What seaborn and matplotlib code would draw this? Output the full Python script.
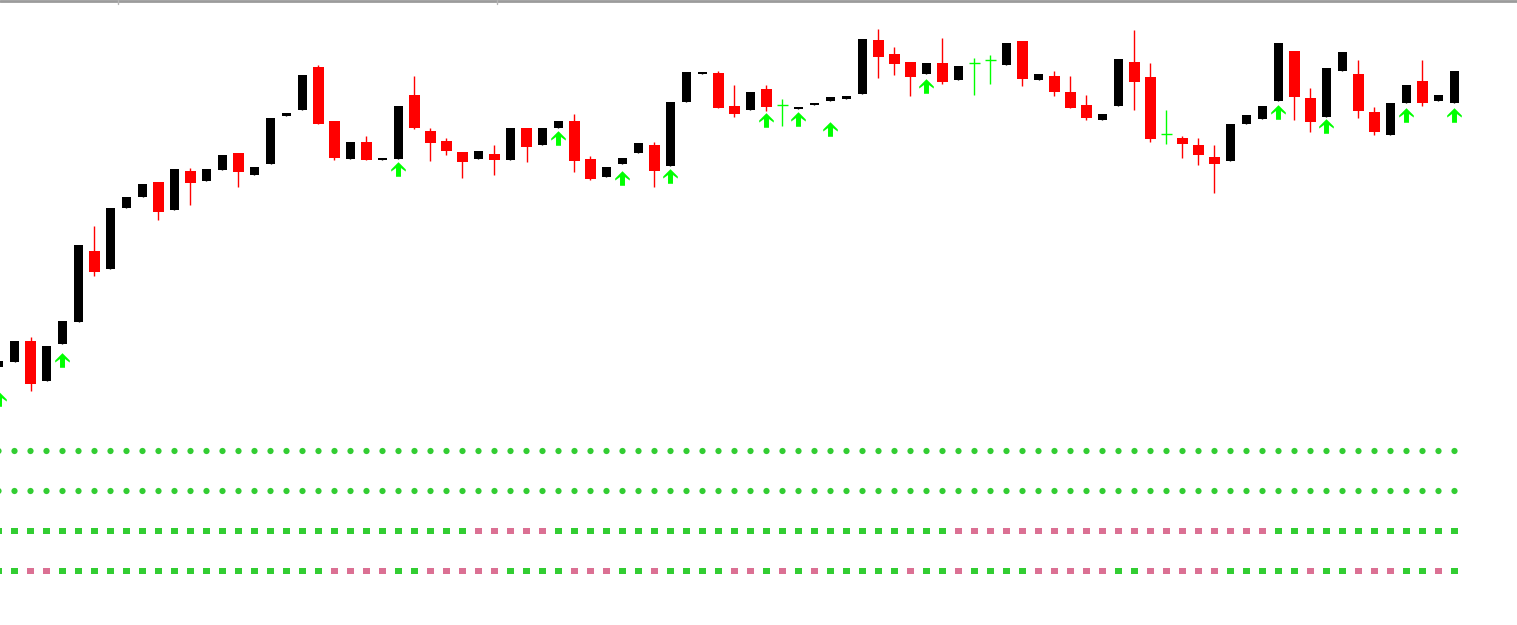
import numpy as np
import pandas as pd
import matplotlib.pyplot as plt
import seaborn as sns
from matplotlib.path import Path

sns.set_style("white")

# bar index -1 is the half-visible candle at the left edge
bars = list(range(-1, 91))

opens = [258, 263, 284, 244, 281, 303, 374, 356, 417, 428, 443, 415, 454, 444, 455, 472,
         450, 461, 509, 515, 558, 504, 466, 483, 465, 466, 530, 494, 484, 473, 466, 471,
         465, 497, 480, 497, 504, 466, 448, 461, 472, 480, 459, 523, 551, 552, 519, 515,
         536, 520, 516, 520, 524, 526, 531, 585, 571, 563, 551, 562, 545, 562, 565, 560,
         584, 545, 549, 533, 520, 505, 519, 563, 548, 491, 487, 480, 468, 464, 501, 506,
         524, 574, 527, 508, 554, 551, 513, 490, 522, 544, 524, 522]
highs = [264, 284, 288, 279, 304, 380, 399, 417, 428, 441, 443, 456, 457, 456, 470, 472,
         458, 507, 512, 550, 560, 504, 483, 489, 467, 519, 549, 497, 487, 473, 474, 480,
         497, 497, 497, 504, 511, 469, 458, 467, 482, 483, 523, 553, 553, 554, 540, 533,
         540, 526, 518, 522, 528, 529, 586, 596, 578, 563, 562, 587, 559, 567, 570, 582,
         584, 551, 554, 549, 530, 511, 566, 595, 562, 515, 489, 487, 480, 501, 510, 519,
         582, 574, 537, 557, 573, 565, 518, 522, 540, 565, 530, 554]
lows = [258, 263, 234, 244, 281, 303, 349, 356, 417, 428, 405, 415, 420, 444, 455, 438,
        450, 461, 509, 515, 501, 465, 466, 465, 465, 466, 496, 464, 470, 447, 466, 450,
        465, 463, 480, 497, 453, 445, 448, 461, 472, 438, 459, 523, 551, 517, 508, 515,
        514, 499, 516, 520, 524, 526, 531, 547, 550, 529, 551, 541, 545, 530, 541, 560,
        539, 545, 529, 517, 505, 505, 519, 515, 483, 481, 467, 460, 432, 464, 501, 506,
        524, 505, 493, 508, 554, 507, 490, 490, 522, 519, 524, 522]
closes = [264, 284, 241, 279, 304, 380, 353, 417, 428, 441, 413, 456, 442, 456, 470, 453,
          458, 507, 512, 550, 501, 467, 483, 465, 467, 519, 497, 482, 474, 463, 474, 465,
          497, 478, 497, 504, 464, 446, 458, 467, 482, 454, 523, 553, 553, 517, 511, 533,
          518, 520, 518, 522, 528, 529, 586, 568, 561, 548, 562, 543, 559, 562, 565, 582,
          546, 551, 533, 517, 507, 511, 566, 543, 486, 491, 481, 470, 461, 501, 510, 519,
          582, 528, 503, 557, 573, 514, 493, 522, 540, 522, 530, 554]

# buy arrows under the candles
arrow_bars = [-1, 3, 24, 34, 38, 41, 47, 49, 51, 57, 79, 82, 87, 90]
arrow_levels = [226, 265, 456.5, 487.5, 447, 449, 505.5, 506, 496.5, 539.5, 513, 499, 510, 510]

# signal rows of the lower panel, U = green, D = pink
row1 = "U" * 92
row2 = "U" * 92
row3 = ("UUUUUUUUUUUUUUUUUUUUUUUUUUUUUU" + "DDDDD" + "UUUUUUUUUUUUUUUUUUUUUUUUU"
        + "DDDDDDDDDDDDDDDDDDDD" + "UUUUUUUUUUUU")
row4 = ("UUDD" + "UUUUUUUUUUUUUUUUU" + "DDDDUUDDDDDUUUUDDDUUDUUUUDDUDUD" + "UUUUUDUUD"
        + "UUUUDDDDDUUDDDDDUUUUUDUUDDDUUDU")

df = pd.DataFrame({"bar": bars, "open": opens, "high": highs, "low": lows, "close": closes})
df["kind"] = np.where(df.close > df.open, "up", np.where(df.close < df.open, "down", "doji"))

fig = plt.figure(figsize=(15.17, 6.25), dpi=100)
ax = fig.add_axes([0, 0, 1, 1])
ax2 = fig.add_axes([0, 0, 1, 200 / 625])
ax2.patch.set_alpha(0)

# candles
for kind, color, width in [("up", "black", 9 / 16), ("down", "#FF0000", 11 / 16)]:
    d = df[df.kind == kind]
    ax.vlines(d.bar, d.low, d.high, color=color, lw=1)
    ax.bar(d.bar, d.close - d.open, bottom=d.open, width=width, color=color, lw=0)
d = df[df.kind == "doji"]
ax.vlines(d.bar, d.low, d.high, color="#00FF00", lw=1)
ax.hlines(d.open, d.bar - 5.5 / 16, d.bar + 5.5 / 16, color="#00FF00", lw=1)

# arrow marker (chevron head + shaft)
arrow = Path([(0, 0.5), (0.5, 0.0), (0.5, -0.14), (0.17, 0.1), (0.17, -0.5), (-0.17, -0.5),
              (-0.17, 0.1), (-0.5, -0.14), (-0.5, 0.0), (0, 0.5)])
sns.scatterplot(x=arrow_bars, y=arrow_levels, marker=arrow, s=110, color="#00FF00",
                linewidth=0, ax=ax, zorder=3)

# dotted signal rows
pal = {"U": "#32CD32", "D": "#DB7093"}
for r, (sig, m) in enumerate(zip([row1, row2, row3, row4], ["o", "o", "s", "s"])):
    dd = pd.DataFrame({"bar": bars, "row": r, "signal": list(sig)})
    sns.scatterplot(data=dd, x="bar", y="row", hue="signal", palette=pal, marker=m,
                    s=20, linewidth=0, legend=False, ax=ax2)

xlim = (-14.5 / 16, (1517 - 14.5) / 16)
ax.set_xlim(xlim)
ax.set_ylim(0, 625)
ax2.set_xlim(xlim)
ax2.set_ylim(4.35, -0.65)
ax.set_axis_off()
ax2.set_axis_off()

# window frame at the top
ax.axhline(624, color="#9b9b9b", lw=2)
for px in [118, 497]:
    fig.add_artist(plt.Line2D([px / 1517] * 2, [1, 1 - 4 / 625], color="#b4b4b4", lw=1))

fig.savefig("out.png", dpi=100)
